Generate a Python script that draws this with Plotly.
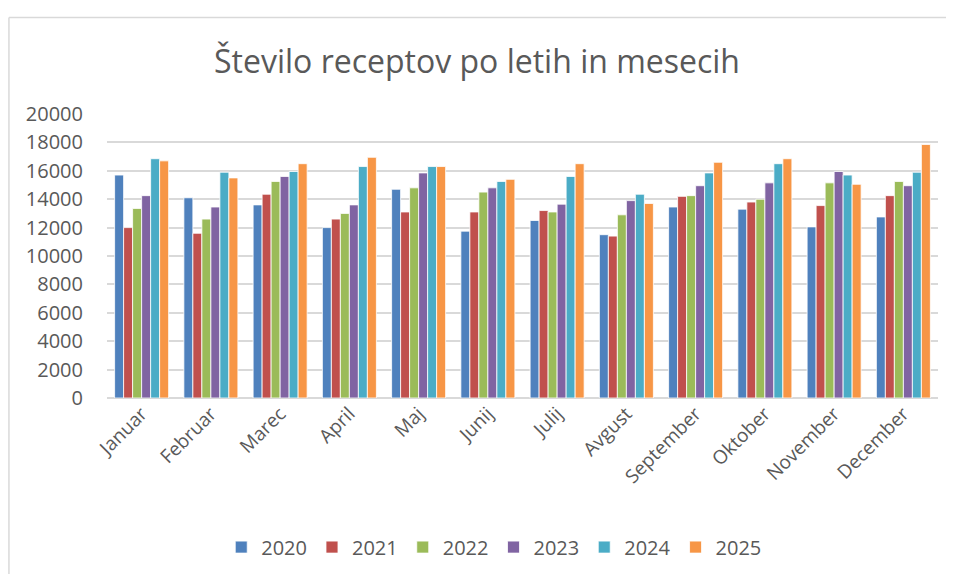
import plotly.graph_objects as go

# Months and yearly series (number of prescriptions)
months = ["Januar", "Februar", "Marec", "April", "Maj", "Junij",
          "Julij", "Avgust", "September", "Oktober", "November", "December"]
years = ["2020", "2021", "2022", "2023", "2024", "2025"]

v2020 = [15700, 14100, 13600, 12000, 14700, 11750, 12500, 11500, 13450, 13300, 12050, 12750]
v2021 = [12000, 11600, 14350, 12600, 13100, 13100, 13200, 11400, 14200, 13800, 13550, 14250]
v2022 = [13350, 12600, 15250, 13000, 14800, 14500, 13100, 12900, 14250, 14000, 15150, 15250]
v2023 = [14250, 13450, 15600, 13600, 15850, 14800, 13650, 13900, 14950, 15150, 15950, 14950]
v2024 = [16850, 15900, 15950, 16300, 16300, 15250, 15600, 14350, 15850, 16500, 15700, 15900]
v2025 = [16700, 15500, 16500, 16950, 16300, 15400, 16500, 13700, 16600, 16850, 15050, 17850]

series = [v2020, v2021, v2022, v2023, v2024, v2025]
colors = ["#4F81BD", "#C0504D", "#9BBB59", "#8064A2", "#4BACC6", "#F79646"]

text_color = "#595959"
border = dict(color="#D9D9D9", width=1.5)

fig = go.Figure()
for name, vals, col in zip(years, series, colors):
    fig.add_trace(go.Bar(
        x=months, y=vals, name=name,
        marker=dict(color=col, line=dict(color="white", width=0.8)),
    ))

# page body adds an 8px offset, so the figure is kept inside the window
fig.update_layout(
    width=938, height=566,
    margin=dict(l=99, r=8, t=106, b=170),
    paper_bgcolor="white", plot_bgcolor="white",
    barmode="group", bargap=0.22, bargroupgap=0.0,
    font=dict(family="Open Sans, sans-serif", color=text_color),
    title=dict(text="Število receptov po letih in mesecih",
               x=0.5, xanchor="center", y=0.905, yanchor="middle",
               font=dict(family="Open Sans, sans-serif", size=32, color=text_color)),
    xaxis=dict(tickangle=-45, tickfont=dict(size=19, color=text_color),
               showgrid=False, ticks="", showline=False),
    yaxis=dict(range=[0, 20000], dtick=2000, tickformat="d",
               tickfont=dict(size=20, color=text_color), ticklabelstandoff=23,
               gridcolor="#D9D9D9", gridwidth=1.5, zeroline=True,
               zerolinecolor="#D9D9D9", zerolinewidth=1.5, ticks=""),
    legend=dict(orientation="h", x=0.466, xanchor="center", y=-0.525, yanchor="middle",
                font=dict(size=20, color=text_color), itemwidth=30),
    # chart-area border: only the top and left edges are inside the picture
    shapes=[
        dict(type="line", xref="paper", yref="paper",
             x0=-0.118, x1=1.2, y0=1.34, y1=1.34, line=border),
        dict(type="line", xref="paper", yref="paper",
             x0=-0.118, x1=-0.118, y0=1.34, y1=-0.8, line=border),
    ],
)

fig.write_html("out.html")
